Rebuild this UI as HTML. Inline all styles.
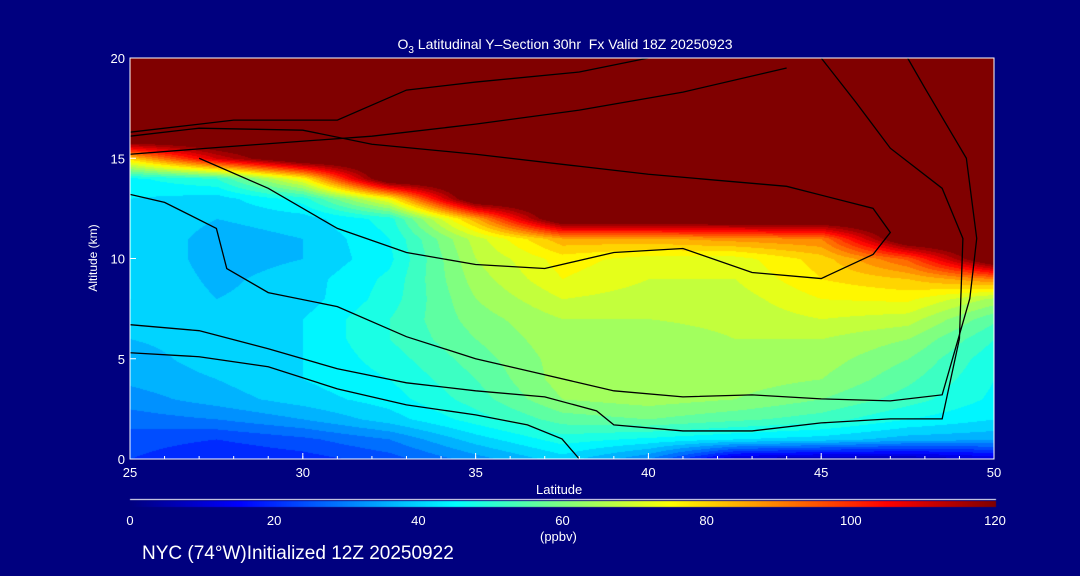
<!DOCTYPE html>
<html><head><meta charset="utf-8"><style>
html,body{margin:0;padding:0;background:#00007f;}
body{width:1080px;height:576px;position:relative;overflow:hidden;font-family:"Liberation Sans","DejaVu Sans",sans-serif;color:#fff;}
.t{position:absolute;white-space:nowrap;font-size:13px;line-height:1;}
</style></head><body>
<div class="t" style="left:0;width:1130px;text-align:center;top:37px;font-size:14px;">O<sub style="font-size:10px">3</sub> Latitudinal Y–Section 30hr&nbsp; Fx Valid 18Z 20250923</div>
<canvas id="cv" width="1080" height="576" style="position:absolute;left:0;top:0"></canvas>
<svg id="sv" width="1080" height="576" style="position:absolute;left:0;top:0"></svg>
<div class="t" style="left:536px;top:483px;">Latitude</div>
<div class="t" style="left:93px;top:258px;transform:translate(-50%,-50%) rotate(-90deg);font-size:12px;">Altitude (km)</div>
<div class="t" style="left:540px;top:530px;">(ppbv)</div>
<div class="t" style="left:142px;top:544px;font-size:19px;">NYC (74°W)Initialized 12Z 20250922</div>
<script>
const lats=[25,27.5,30,32.5,35,37.5,40,42.5,45,47.5,50];
const alts=[0,1,2,3,4,5,6,7,8,9,10,11,12,13,14,15,16,17,18,19,20];
const o3=[
[22,18,20,24,32,40,30,8,5,5,10],
[24,22,25,30,40,48,45,42,40,36,35],
[28,30,34,40,48,56,58,55,52,46,42],
[32,36,40,44,52,62,64,62,58,52,45],
[35,38,42,46,54,64,64,64,62,55,46],
[36,40,42,48,56,64,64,66,64,58,47],
[38,40,42,50,58,65,64,66,66,62,50],
[40,40,42,50,60,66,66,67,70,68,55],
[42,38,40,48,62,70,68,68,74,75,65],
[42,37,40,47,64,74,70,70,78,82,90],
[42,36,38,45,66,76,72,72,80,95,130],
[42,36,38,46,68,85,85,88,90,130,130],
[42,38,40,48,85,130,130,130,130,130,130],
[42,40,48,75,130,130,130,130,130,130,130],
[45,50,75,130,130,130,130,130,130,130,130],
[80,110,130,130,130,130,130,130,130,130,130],
[130,130,130,130,130,130,130,130,130,130,130],
[130,130,130,130,130,130,130,130,130,130,130],
[130,130,130,130,130,130,130,130,130,130,130],
[130,130,130,130,130,130,130,130,130,130,130],
[130,130,130,130,130,130,130,130,130,130,130]];
const xTicks=[25,30,35,40,45,50];
const yTicks=[0,5,10,15,20];
const cbTicks=[0,20,40,60,80,100,120];
const contours=[
{v:"0",pts:[[25,5.3],[27,5.1],[29,4.6],[31,3.5],[33,2.7],[35,2.2],[36.5,1.7],[37.5,1.0],[38,0]]},
{v:"10",pts:[[25,13.2],[26,12.8],[27.5,11.5],[27.8,9.5],[29,8.3],[31,7.6],[33,6.1],[35,5.0],[37,4.2],[39,3.4],[41,3.1],[43,3.2],[45,3.0],[47,2.9],[48.5,3.2],[49.3,8],[49.5,11],[49.2,15],[48,18.5],[47.5,20]]},
{v:"20",pts:[[27,15],[29,13.5],[31,11.5],[33,10.3],[35,9.7],[37,9.5],[39,10.3],[41,10.5],[43,9.3],[45,9.0],[46.5,10.2],[47,11.3],[46.5,12.5],[44,13.6],[42,13.9],[40,14.2],[38,14.6],[35,15.2],[32,15.7],[30,16.4],[27,16.5],[25,16.1]]},
{v:"10",pts:[[25,6.7],[27,6.4],[29,5.5],[31,4.5],[33,3.8],[35,3.4],[37,3.1],[38.5,2.4],[39,1.7],[41,1.4],[43,1.4],[45,1.8],[47,2.0],[48.5,2.0],[49,6],[49.1,11],[48.5,13.5],[47,15.5],[46,17.8],[45,20]]},
{v:"0",pts:[[25,16.3],[28,16.9],[31,16.9],[33,18.4],[35,18.8],[38,19.3],[40,20]]},
{v:"10",pts:[[25,15.2],[28,15.6],[32,16.1],[35,16.7],[38,17.4],[41,18.3],[44,19.5]]}
];
const X0=130,X1=994,Y0=58,Y1=459;
const sx=v=>X0+(v-25)/25*(X1-X0);
const sy=v=>Y1-v/20*(Y1-Y0);
function jet(t){t=Math.max(0,Math.min(1,t));const c=x=>Math.round(255*Math.max(0,Math.min(1,x)));
return [c(1.5-Math.abs(4*t-3)),c(1.5-Math.abs(4*t-2)),c(1.5-Math.abs(4*t-1))];}
function val(lat,alt){
 let i=0;while(i<lats.length-2&&lat>lats[i+1])i++;
 let j=0;while(j<alts.length-2&&alt>alts[j+1])j++;
 const fx=(lat-lats[i])/(lats[i+1]-lats[i]),fy=(alt-alts[j])/(alts[j+1]-alts[j]);
 return o3[j][i]*(1-fx)*(1-fy)+o3[j][i+1]*fx*(1-fy)+o3[j+1][i]*(1-fx)*fy+o3[j+1][i+1]*fx*fy;}
const cv=document.getElementById('cv'),ctx=cv.getContext('2d');
const img=ctx.createImageData(X1-X0,Y1-Y0);
for(let py=0;py<Y1-Y0;py++)for(let px=0;px<X1-X0;px++){
 const lat=25+px/(X1-X0)*25,alt=(Y1-Y0-py)/(Y1-Y0)*20;
 const v=Math.round(val(lat,alt)/120*30)/30;
 const [r,g,b]=jet(v);const k=(py*(X1-X0)+px)*4;
 img.data[k]=r;img.data[k+1]=g;img.data[k+2]=b;img.data[k+3]=255;}
ctx.putImageData(img,X0,Y0);
for(let px=0;px<=865;px++){const [r,g,b]=jet(px/865);ctx.fillStyle=`rgb(${r},${g},${b})`;ctx.fillRect(130+px,501,1,6);}
ctx.fillStyle='#fff';ctx.fillRect(130,499,866,1);
const sv=document.getElementById('sv');const NS='http://www.w3.org/2000/svg';
function add(tag,attrs,parent){const e=document.createElementNS(NS,tag);for(const k in attrs)e.setAttribute(k,attrs[k]);(parent||sv).appendChild(e);return e;}
contours.forEach(c=>{
 const p=add('polyline',{points:c.pts.map(q=>sx(q[0])+','+sy(q[1])).join(' '),fill:'none',stroke:'#000','stroke-width':1.3});
 
 
});
const ax=add('path',{d:`M${X0},${Y0}H${X1}V${Y1}H${X0}Z`,fill:'none',stroke:'#fff','stroke-width':1});


xTicks.forEach(v=>{
 add('line',{x1:sx(v),x2:sx(v),y1:Y1,y2:Y1-6,stroke:'#fff'});
 const t=add('text',{x:sx(v),y:Y1+18,fill:'#fff','font-size':13,'text-anchor':'middle','font-family':'Liberation Sans'});t.textContent=v;
 
 
});
for(let v=25;v<=50;v++)add('line',{x1:sx(v),x2:sx(v),y1:Y1,y2:Y1-3,stroke:'#fff'});
yTicks.forEach(v=>{
 add('line',{x1:X0,x2:X0+6,y1:sy(v),y2:sy(v),stroke:'#fff'});
 const t=add('text',{x:X0-5,y:sy(v)+5,fill:'#fff','font-size':13,'text-anchor':'end','font-family':'Liberation Sans'});t.textContent=v;
 
 
});
cbTicks.forEach(v=>{
 const t=add('text',{x:130+v/120*865,y:525,fill:'#fff','font-size':13,'text-anchor':'middle','font-family':'Liberation Sans'});t.textContent=v;
 
 
});
</script>
</body></html>
